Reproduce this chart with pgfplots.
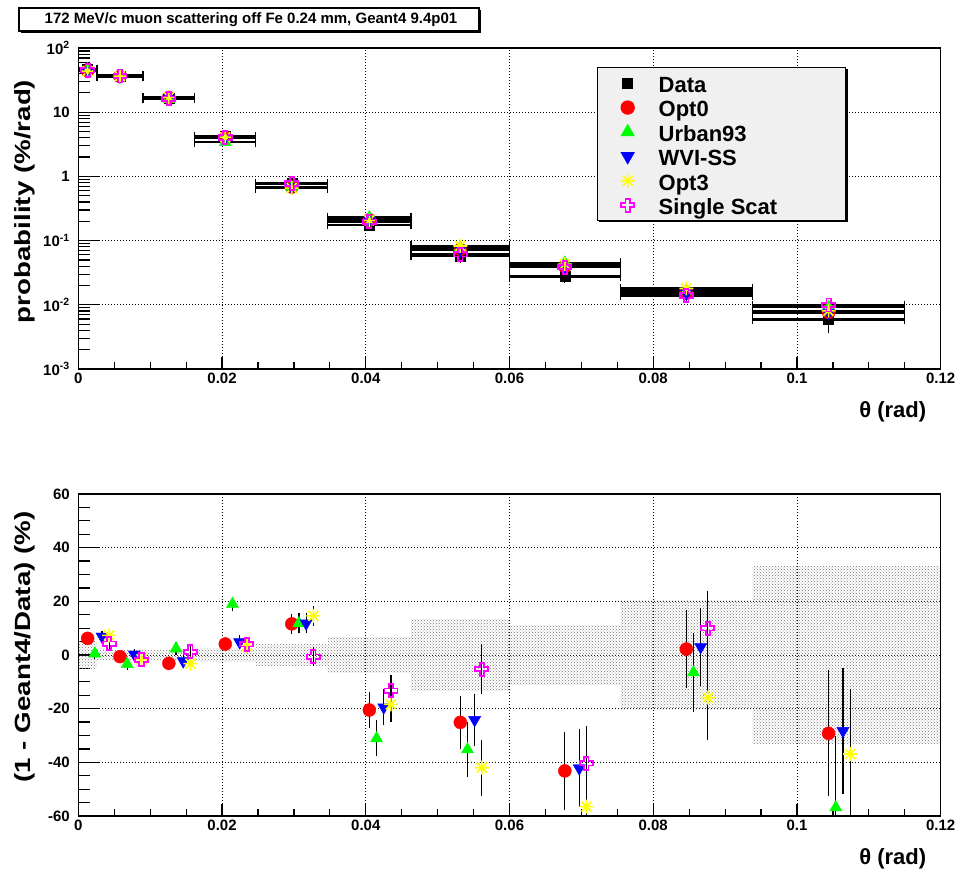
\documentclass[border=0pt]{standalone}
\usepackage{pgfplots}
\pgfplotsset{compat=1.18}
\usepackage{pgfplotstable}
\usepackage{graphicx}
\usepackage{fontspec}
\setmainfont{Liberation Sans}[UprightFont={* Bold}]
\usetikzlibrary{patterns}

\definecolor{rootred}{RGB}{255,0,0}
\definecolor{rootgreen}{RGB}{0,255,0}
\definecolor{rootblue}{RGB}{0,0,255}
\definecolor{rootyellow}{RGB}{255,255,0}
\definecolor{rootmagenta}{RGB}{255,0,255}
\definecolor{legendgray}{RGB}{240,240,240}

% open cross (plus outline)
\pgfdeclareplotmark{opencross}{%
  \pgfpathmoveto{\pgfqpoint{-0.33\pgfplotmarksize}{\pgfplotmarksize}}%
  \pgfpathlineto{\pgfqpoint{0.33\pgfplotmarksize}{\pgfplotmarksize}}%
  \pgfpathlineto{\pgfqpoint{0.33\pgfplotmarksize}{0.33\pgfplotmarksize}}%
  \pgfpathlineto{\pgfqpoint{\pgfplotmarksize}{0.33\pgfplotmarksize}}%
  \pgfpathlineto{\pgfqpoint{\pgfplotmarksize}{-0.33\pgfplotmarksize}}%
  \pgfpathlineto{\pgfqpoint{0.33\pgfplotmarksize}{-0.33\pgfplotmarksize}}%
  \pgfpathlineto{\pgfqpoint{0.33\pgfplotmarksize}{-\pgfplotmarksize}}%
  \pgfpathlineto{\pgfqpoint{-0.33\pgfplotmarksize}{-\pgfplotmarksize}}%
  \pgfpathlineto{\pgfqpoint{-0.33\pgfplotmarksize}{-0.33\pgfplotmarksize}}%
  \pgfpathlineto{\pgfqpoint{-\pgfplotmarksize}{-0.33\pgfplotmarksize}}%
  \pgfpathlineto{\pgfqpoint{-\pgfplotmarksize}{0.33\pgfplotmarksize}}%
  \pgfpathlineto{\pgfqpoint{-0.33\pgfplotmarksize}{0.33\pgfplotmarksize}}%
  \pgfpathclose\pgfusepathqstroke}
% eight-ray star
\pgfdeclareplotmark{rootstar}{%
  \pgfpathmoveto{\pgfqpoint{-\pgfplotmarksize}{0pt}}\pgfpathlineto{\pgfqpoint{\pgfplotmarksize}{0pt}}%
  \pgfpathmoveto{\pgfqpoint{0pt}{-\pgfplotmarksize}}\pgfpathlineto{\pgfqpoint{0pt}{\pgfplotmarksize}}%
  \pgfpathmoveto{\pgfqpoint{-0.707\pgfplotmarksize}{-0.707\pgfplotmarksize}}\pgfpathlineto{\pgfqpoint{0.707\pgfplotmarksize}{0.707\pgfplotmarksize}}%
  \pgfpathmoveto{\pgfqpoint{-0.707\pgfplotmarksize}{0.707\pgfplotmarksize}}\pgfpathlineto{\pgfqpoint{0.707\pgfplotmarksize}{-0.707\pgfplotmarksize}}%
  \pgfusepathqstroke}

% uniform legend row: fixed width, height and depth
\newcommand{\lrow}[1]{\makebox[166pt][l]{\rule[-4.3pt]{0pt}{24.4pt}#1}}

\pgfplotsset{
  sData/.style={only marks, mark=square*, mark size=5pt, color=black},
  sOpt0/.style={only marks, mark=*, mark size=6.5pt, color=rootred},
  sUrban/.style={only marks, mark=triangle*, mark size=7pt, color=rootgreen},
  sWVI/.style={only marks, mark=triangle*, mark size=7pt, mark options={rotate=180}, color=rootblue},
  sOpt3/.style={only marks, mark=rootstar, mark size=7pt, color=rootyellow, mark options={line width=1.6pt}},
  sSS/.style={only marks, mark=opencross, mark size=6.5pt, color=rootmagenta, mark options={line width=1.8pt}},
  hbar/.style={only marks, mark=none, forget plot,
    error bars/.cd, x dir=both, x explicit,
    error bar style={black, line width=2.4pt},
    error mark options={black, line width=1.3pt, mark size=4.5pt, rotate=90}},
  vbar/.style={error bars/.cd, y dir=both, y explicit,
    error bar style={black, line width=1.2pt, solid},
    error mark options={black, line width=1.2pt, mark size=3pt}},
  rootaxis/.style={
    scale only axis, width=862.4pt, anchor=south west,
    xmin=0, xmax=0.12,
    xtick={0,0.02,0.04,0.06,0.08,0.1,0.12},
    xticklabels={0,0.02,0.04,0.06,0.08,0.1,0.12},
    minor x tick num=3,
    xtick pos=bottom, ytick pos=left, tick align=inside,
    axis line style={line width=1.3pt},
    tick style={black, line width=1.2pt},
    major tick length=22pt, minor tick length=12pt,
    xtick style={/pgfplots/major tick length=12pt, /pgfplots/minor tick length=7pt},
    grid=major,
    major grid style={black, line width=0.9pt, dash pattern=on 0.9pt off 2.1pt},
    tick label style={font=\fontsize{15}{15}\selectfont},
    yticklabel style={xshift=-5pt},
    xlabel={\fontsize{22}{22}\selectfont θ (rad)},
    xlabel style={at={(axis description cs:1,0)}, anchor=north east, xshift=-11pt, yshift=-29pt},
  },
}

% top panel: probability per bin (x, half width, data, data error, models)
\pgfplotstableread{
x        ex       data    derr    opt0     urban    wvi      opt3     ss
0.0013   0.0013   47      2.35    44.1     46.7     43.7     43.6     45.0
0.0058   0.0032   36      0.54    36.2     37.1     35.9     36.4     36.6
0.0126   0.0036   16.5    0.25    17.0     16.1     16.9     17.0     16.3
0.02045  0.00425  4.2     0.105   4.03     3.41     3.99     4.07     4.03
0.0297   0.0050   0.77    0.029   0.681    0.678    0.679    0.657    0.775
0.0405   0.0058   0.175   0.0116  0.211    0.229    0.209    0.207    0.198
0.05315  0.00685  0.058   0.0075  0.0726   0.0784   0.0720   0.0824   0.0611
0.0677   0.0077   0.0275  0.0030  0.0394   0.0451   0.0391   0.0430   0.0386
0.0846   0.0092   0.0155  0.0031  0.01516  0.0165   0.01504  0.01796  0.01397
0.1044   0.0106   0.0059  0.0019  0.00762  0.00925  0.00757  0.00808  0.00991
}\toptab

\begin{document}
\begin{tikzpicture}
\useasboundingbox (0pt,0pt) rectangle (966pt,871pt);

% title box
\fill[black] (21pt,838pt) rectangle (481pt,861pt);
\draw[line width=1.3pt, fill=white] (19pt,840pt) rectangle (479pt,863pt);
\node[font=\fontsize{15}{15}\selectfont] at (251pt,851.5pt)
  {172 MeV/c muon scattering off Fe 0.24 mm, Geant4 9.4p01};

\begin{axis}[rootaxis, at={(78.3pt,502pt)}, height=321pt,
  ymode=log, ymin=1e-3, ymax=100,
  ytick={1e-3,1e-2,1e-1,1,10,100},
  yticklabels={10\textsuperscript{-3},10\textsuperscript{-2},10\textsuperscript{-1},1,10,10\textsuperscript{2}},
  ylabel={\scalebox{1.26}[1]{\fontsize{22}{22}\selectfont probability (\%/rad)}},
  ylabel style={at={(axis description cs:-0.062,0.522)}, anchor=center},
  legend style={at={(axis description cs:0.6015,0.9408)}, anchor=north west,
    fill=legendgray, draw=black, line width=1.3pt,
    font=\fontsize{22}{22}\selectfont,
    inner xsep=21pt, inner ysep=3.3pt, row sep=0pt, column sep=22pt,
    cells={anchor=center}, nodes={inner sep=0pt, anchor=center}},
  legend image code/.code={%
    \path[draw=none, fill=none] (0pt,-12.2pt) rectangle (18pt,12.2pt);
    \draw[mark repeat=2, mark phase=2, #1] plot coordinates {(0pt,0pt) (9pt,0pt) (18pt,0pt)};},
]
% horizontal bin-width bars
\addplot[hbar] table[x=x, y=data, x error=ex]{\toptab};
\addplot[hbar] table[x=x, y=opt0, x error=ex]{\toptab};
\addplot[hbar] table[x=x, y=urban, x error=ex]{\toptab};
\addplot[hbar] table[x=x, y=wvi, x error=ex]{\toptab};
\addplot[hbar] table[x=x, y=opt3, x error=ex]{\toptab};
\addplot[hbar] table[x=x, y=ss, x error=ex]{\toptab};
% markers
\addplot[sData, vbar] table[x=x, y=data, y error=derr]{\toptab};
\addlegendentry{\lrow{Data}}
\addplot[sOpt0] table[x=x, y=opt0]{\toptab};
\addlegendentry{\lrow{Opt0}}
\addplot[sUrban] table[x=x, y=urban]{\toptab};
\addlegendentry{\lrow{Urban93}}
\addplot[sWVI] table[x=x, y=wvi]{\toptab};
\addlegendentry{\lrow{WVI-SS}}
\addplot[sOpt3] table[x=x, y=opt3]{\toptab};
\addlegendentry{\lrow{Opt3}}
\addplot[sSS] table[x=x, y=ss]{\toptab};
\addlegendentry{\lrow{Single Scat}}
\end{axis}
% shadow of the legend box
\fill[black] (599pt,648.8pt) rectangle (847.5pt,650.4pt);
\fill[black] (845.7pt,648.8pt) rectangle (847.5pt,802pt);

\begin{axis}[rootaxis, at={(78.3pt,55pt)}, height=322pt,
  ymin=-60, ymax=60,
  ytick={-60,-40,-20,0,20,40,60},
  yticklabels={-60,-40,-20,0,20,40,60},
  minor y tick num=3,
  ylabel={\scalebox{1.26}[1]{\fontsize{22}{22}\selectfont (1 - Geant4/Data) (\%)}},
  ylabel style={at={(axis description cs:-0.062,0.525)}, anchor=center},
]
% data uncertainty bands
\pgfplotsset{band/.style={draw=none, pattern=crosshatch dots, pattern color=black!55, forget plot}}
\addplot[band] coordinates {(0,-5) (0.0026,-5) (0.0026,5) (0,5)} --cycle;
\addplot[band] coordinates {(0.0026,-1.5) (0.0090,-1.5) (0.0090,1.5) (0.0026,1.5)} --cycle;
\addplot[band] coordinates {(0.0090,-1.5) (0.0162,-1.5) (0.0162,1.5) (0.0090,1.5)} --cycle;
\addplot[band] coordinates {(0.0162,-2.5) (0.0247,-2.5) (0.0247,2.5) (0.0162,2.5)} --cycle;
\addplot[band] coordinates {(0.0247,-3.8) (0.0347,-3.8) (0.0347,3.8) (0.0247,3.8)} --cycle;
\addplot[band] coordinates {(0.0347,-6.6) (0.0463,-6.6) (0.0463,6.6) (0.0347,6.6)} --cycle;
\addplot[band] coordinates {(0.0463,-13.2) (0.0600,-13.2) (0.0600,13.2) (0.0463,13.2)} --cycle;
\addplot[band] coordinates {(0.0600,-10.9) (0.0754,-10.9) (0.0754,10.9) (0.0600,10.9)} --cycle;
\addplot[band] coordinates {(0.0754,-20.2) (0.0938,-20.2) (0.0938,20.2) (0.0754,20.2)} --cycle;
\addplot[band] coordinates {(0.0938,-33) (0.1199,-33) (0.1199,33) (0.0938,33)} --cycle;

% Opt0
\addplot[sOpt0, vbar] coordinates {
 (0.0013,6.2) +- (0,1.0)  (0.0058,-0.6) +- (0,1.0)  (0.0126,-3.1) +- (0,1.2)
 (0.02045,4.1) +- (0,1.5) (0.0297,11.6) +- (0,2.6)  (0.0405,-20.5) +- (0,5.6)
 (0.05315,-25.1) +- (0,8.7) (0.0677,-43.2) +- (0,13.4) (0.0846,2.2) +- (0,13.4)
 (0.1044,-29.2) +- (0,22.4)};
% Urban93
\addplot[sUrban, vbar] coordinates {
 (0.0023,0.5) +- (0,1.0)  (0.0068,-3.4) +- (0,1.0)  (0.0136,2.4) +- (0,1.2)
 (0.02145,19.0) +- (0,1.5) (0.0307,11.8) +- (0,2.6) (0.0415,-31.1) +- (0,5.6)
 (0.05415,-35.2) +- (0,9.2) (0.0856,-6.5) +- (0,13.7) (0.1054,-56.8) +- (0,25.4)};
% WVI-SS
\addplot[sWVI, vbar] coordinates {
 (0.0033,6.9) +- (0,1.0)  (0.0078,0.2) +- (0,1.0)  (0.0146,-2.3) +- (0,1.2)
 (0.02245,4.8) +- (0,1.5) (0.0317,11.8) +- (0,2.6) (0.0425,-19.5) +- (0,5.6)
 (0.05515,-24.2) +- (0,8.7) (0.0697,-42.2) +- (0,13.4) (0.0866,3.0) +- (0,13.4)
 (0.1064,-28.3) +- (0,22.4)};
% Opt3
\addplot[sOpt3, vbar] coordinates {
 (0.0043,7.3) +- (0,1.0)  (0.0088,-1.6) +- (0,1.0)  (0.0156,-3.2) +- (0,1.2)
 (0.02345,3.3) +- (0,1.5) (0.0327,14.6) +- (0,2.5) (0.0435,-18.4) +- (0,5.6)
 (0.05615,-42.0) +- (0,9.3) (0.0707,-56.5) +- (0,13.5) (0.0876,-15.9) +- (0,14.6)
 (0.1074,-36.9) +- (0,23.2)};
% Single Scat
\addplot[sSS, vbar] coordinates {
 (0.0043,4.2) +- (0,1.0)  (0.0088,-1.8) +- (0,1.0)  (0.0156,1.2) +- (0,1.2)
 (0.02345,4.0) +- (0,1.5) (0.0327,-0.6) +- (0,2.5) (0.0435,-13.3) +- (0,4.8)
 (0.05615,-5.3) +- (0,8.2) (0.0707,-40.4) +- (0,13.0) (0.0876,9.9) +- (0,12.7)};
\end{axis}
\end{tikzpicture}
\end{document}
